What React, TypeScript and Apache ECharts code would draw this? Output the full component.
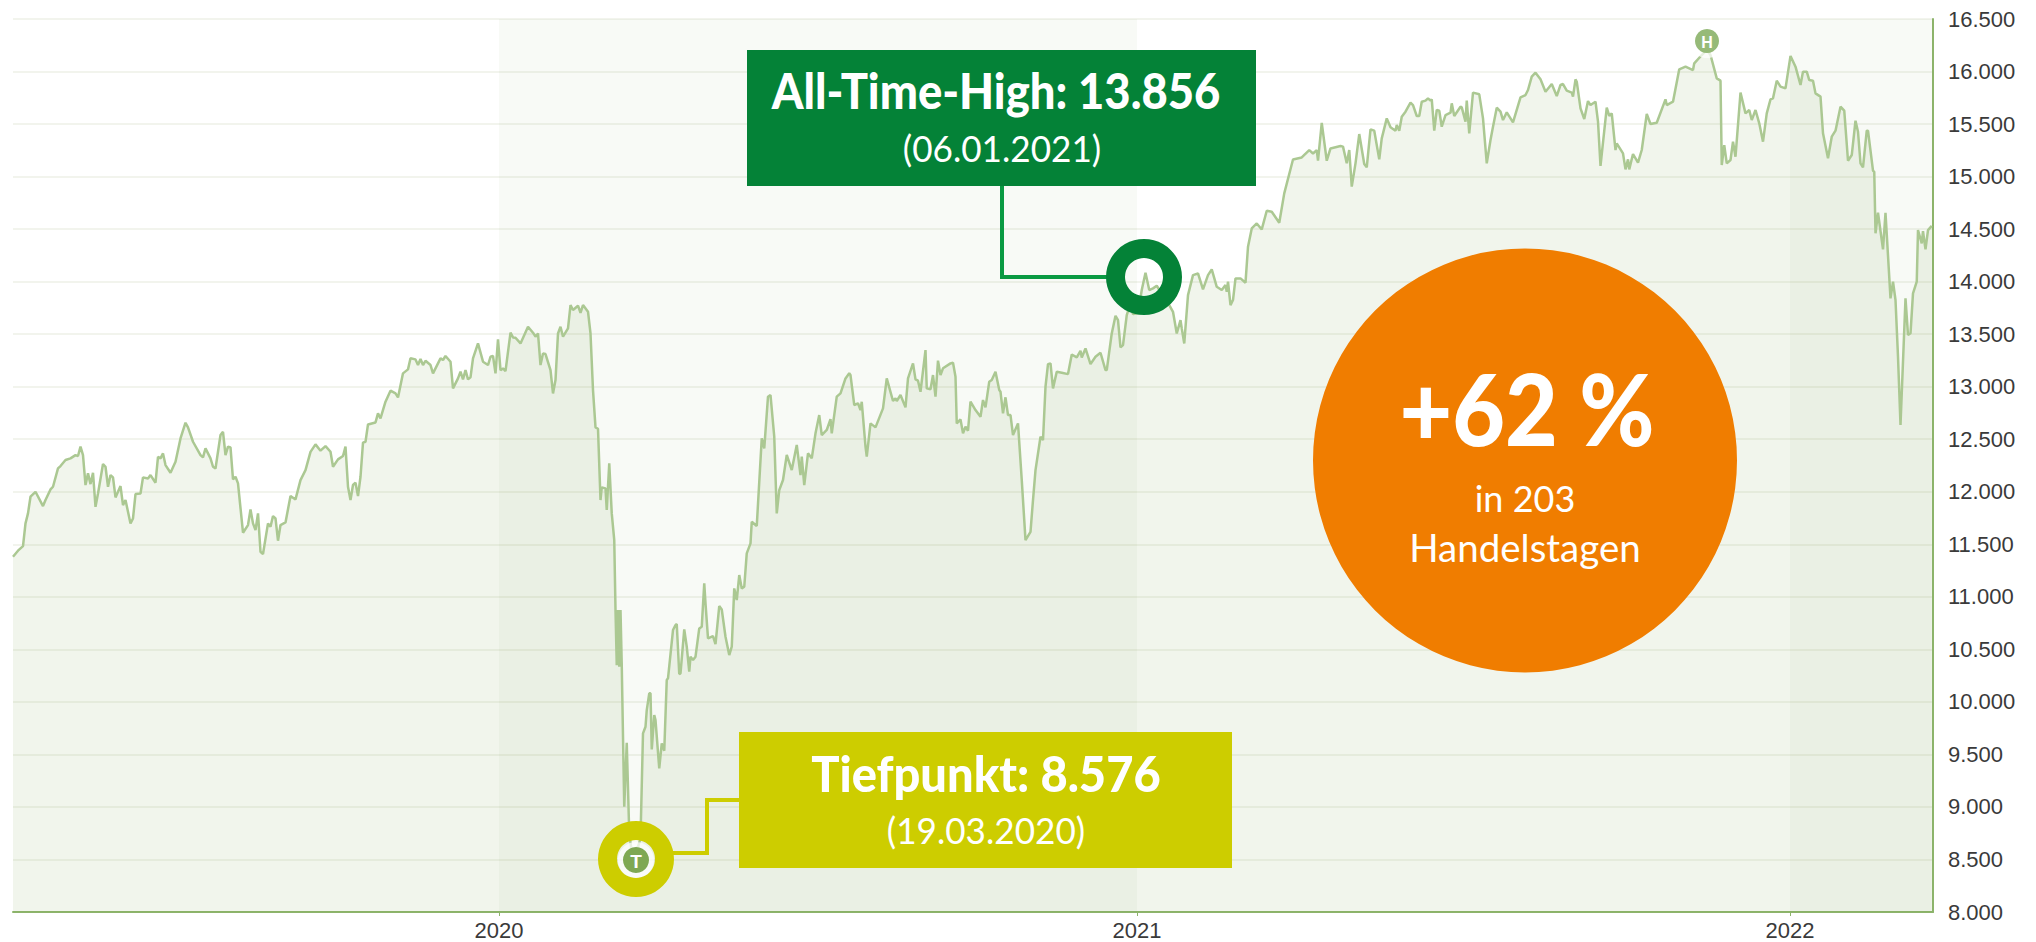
import React, { useEffect, useRef } from "react";
import * as echarts from "echarts";

// [trading session index, index level]
const legSpring2019 = [[0,11382],[2,11439],[4,11483],[5,11699],[6,11794],[7,11953],[9,12000],[12,11864],[13,11921],[15,12022],[16,12048],[18,12222],[19,12245],[21,12302],[23,12318],[25,12349],[26,12340],[27,12429],[28,12349],[29,12064],[30,12175],[31,12073],[32,12181],[33,11857],[34,11984],[36,12264],[37,12238],[38,12048],[39,12159],[40,12137],[41,11946],[43,12054],[44,11873],[45,11921],[47,11699],[48,11746],[49,11978],[51,11984],[52,12137],[54,12127],[55,12159],[57,12086],[58,12333],[59,12318],[60,12365],[61,12254],[63,12181],[65,12286],[67,12508],[69,12657],[70,12613],[72,12476],[75,12349],[76,12327],[77,12413],[79,12318],[80,12238],[81,12222],[83,12540],[84,12571],[85,12349],[86,12429],[87,12422],[88,12118],[89,12143],[90,12080],[92,11610],[94,11683],[95,11832],[96,11699],[97,11635],[98,11794],[99,11429],[100,11407],[102,11699],[103,11667],[104,11769],[105,11746],[106,11534],[107,11683],[109,11708],[111,11959],[113,11927],[115,12111],[117,12206],[119,12380]];
const legAutumn2019 = [[121,12451],[123,12391],[125,12435],[127,12381],[128,12238],[130,12308],[132,12340],[133,12429],[134,12048],[135,11921],[136,12064],[137,12086],[138,11959],[139,12143],[140,12467],[141,12476],[142,12641],[145,12660],[146,12746],[147,12698],[149,12857],[151,12962],[153,12936],[154,12898],[156,13127],[158,13165],[159,13270],[161,13260],[162,13206],[163,13263],[164,13206],[165,13247],[167,13206],[168,13127],[171,13270],[172,13254],[173,13292],[175,13238],[176,12984],[178,13079],[179,13143],[180,13070],[181,13158],[182,13070],[183,13089],[184,13270],[186,13412],[188,13238],[190,13206],[191,13285],[192,13292],[193,13127],[194,13450],[195,13158],[196,13174],[197,13149],[199,13514],[200,13469],[201,13466],[203,13412],[206,13571],[208,13514],[209,13476],[210,13507],[211,13206],[212,13317],[213,13311],[215,13158],[216,12936],[217,13063],[218,13507],[219,13571],[220,13476],[222,13555],[223,13777],[224,13730],[226,13771],[227,13704],[228,13777],[230,13714],[231,13507],[232,12968],[233,12613],[234,12600]];
const legCrash2020 = [[235,11921],[235.5,12042],[237,12032],[237.5,11826],[238.5,12270],[239.5,11794],[240.5,11540],[241,10874],[241.5,10350],[242,10874],[242.5,10334],[243,10874],[243.5,10350],[244.5,9002],[245.5,9611],[246.5,8748],[247.5,8576],[250,8620],[251,8700],[252,9700],[253,9763],[253.5,9922],[254.5,10081],[255,10081],[255.5,9548],[256.5,9875],[257,9827],[258.5,9367],[259.5,9605],[260.5,9535],[261.5,10208],[262,10224],[264,10684],[265,10731],[265.5,10741],[266.5,10265],[267,10271],[268.5,10690],[269.5,10525],[270.5,10287],[271,10430],[272,10398],[273,10430],[274.5,10699],[275.5,10715],[276.5,11128],[277,10937],[278,10604],[280,10627],[281,10550],[282.5,10912],[283.5,10880],[285,10620],[286.5,10446],[287.5,10525],[288.5,11080],[289.5,10969],[290.5,11207],[291.5,11080],[292.5,11096]];
const legRecovery2020 = [[293.5,11413],[295,11509],[295.5,11715],[297.5,11674],[299.5,12508],[300.5,12413],[302,12905],[303,12921],[304.5,12524],[305.5,11794],[306.5,12016],[308,12112],[309.5,12350],[311.5,12207],[313.5,12445],[315,12159],[315.5,12334],[316.5,12064],[318,12366],[319.5,12318],[321,12556],[322.5,12730],[323.5,12540],[325.5,12588],[327,12692],[327.5,12556],[329.5,12905],[331,12937],[333,13079],[334.5,13127],[335,13111],[336.5,12826],[338,12842],[339,12778],[339.5,12857],[341,12429],[341.5,12334],[343,12651],[345,12613],[348,12794],[349.5,13079],[352,12864],[353,12889],[353.5,12864],[355,12921],[357,12803],[358,13079],[360,13222],[361,13070],[362,13057],[363,12952],[365,13349],[365.5,12984],[367,12975],[368,13111],[369,12905],[370,13248],[371,13111],[372,13175],[375,13222],[376,13229],[377,13095],[377.5,12651],[379,12689],[380,12556],[381,12619],[382,12581],[383,12857],[385,12778],[387,12714],[388,12873],[389,12803],[390.5,13048],[391.5,13064],[393,13143],[394.5,12968],[395,12952],[396,12746],[397,12899],[398,12730],[399,12730],[400,12540],[402,12651],[403.5,12112],[405,11540],[407,11619]];
const legPeak2021 = [[408,11921],[409,12206],[411,12524],[412,12492],[413,13000],[414,13215],[415,13222],[416,12984],[417.5,13142],[419.5,13133],[422,13120],[423.5,13307],[425.5,13279],[427,13342],[427.5,13279],[429,13364],[431,13215],[433,13285],[435,13323],[437,13158],[437.5,13158],[439.5,13507],[441,13675],[442,13634],[443,13374],[444,13396],[445.5,13682],[447,13793],[448,13691],[450,13700],[451.5,13920],[453,14085],[454.5,13920],[456,13936],[457.5,13961],[459,13904],[461,13840],[464,13713],[465.5,13507],[467,13634],[467.5,13555],[468.5,13412],[470,13872],[472,14062],[474,14078],[476,13926],[478,14062],[479.5,14116],[481.5,13951],[483.5,13920],[485,13967],[485.5,13904],[486,13999],[487,13777],[488,13825],[489,14031],[491,14031],[493,13990],[494,14332],[495.5,14507],[497.5,14554],[499.5,14497],[501.5,14675],[503.5,14665],[506.5,14560],[508.5,14840],[512,15163],[515.5,15182],[518.5,15252],[520,15220],[521.5,15252],[522,15151],[523.5,15512],[525.5,15151],[527,15268],[531,15291],[532,15285],[533.5,15126],[534.5,15253],[535.5,14904],[537,15126],[538.5,15405],[540.5,15120],[541.5,15088],[543,15450],[544.5,15437],[546.5,15164],[547.5,15364],[549.5,15554],[551,15469],[553,15437],[553.5,15491],[554.5,15437],[555.5,15570],[557,15618],[559,15703],[560,15681],[561.5,15577],[562.5,15577],[563.5,15713],[565,15723],[566,15745],[567,15723],[567.5,15735],[568.5,15437],[569.5,15634],[570.5,15627],[571.5,15475],[573,15586],[575,15608],[575.5,15697],[576.5,15577],[579,15665],[579.5,15659],[581,15523],[581.5,15723],[582.5,15412],[584,15799],[586.5,15783],[588,15554],[589.5,15126],[591,15348],[592,15475],[593.5,15656],[595,15618],[596,15538],[597.5,15611],[600,15516],[601.5,15634],[603,15754],[605,15776],[606,15824],[607.5,15951],[609,15989],[611,15926],[613,15808],[615.5,15881],[617.5,15767],[619,15872],[620,15881],[621.5,15818],[623.5,15799],[624,15761],[625,15926],[625.5,15903],[627,15650],[628.5,15548],[630,15719],[631,15681],[633,15713],[634,15523],[635,15101],[637.5,15656],[638.5,15577],[639.5,15602],[641,15253],[641.5,15316],[644,15221],[645,15069],[646,15164],[646.5,15069],[648,15215],[650,15132],[651.5,15253],[653.5,15596],[655,15500]];
const legTop2021 = [[657.5,15513],[661,15735],[661.5,15681],[664,15713],[666.5,16021],[669,16046],[672,16014],[672.5,16078],[675.5,16157],[677.5,16205],[679,16157],[681.5,15935],[683,15913],[683.5,15110],[684.5,15300],[685.5,15126],[687,15158],[688,15332],[689,15189],[691,15799],[693,15602],[694.5,15634],[695.5,15538],[697,15634],[698.5,15507],[700,15332],[701.5,15602],[703,15735],[704,15745],[705.5,15913],[707,15856],[709,15840],[711,16148],[713,16046],[715,15872],[716,15999],[717.5,15999],[718.5,15919],[720,15913],[721,15792],[723,15761],[724,15412],[726,15174],[727.5,15380],[729,15437],[731,15665],[732.5,15627],[734,15151],[735.5,15205],[737,15532],[738,15427],[739,15126],[740,15088],[741.5,15437],[742,15437],[744,15056],[744.5,15047],[745,14460],[746,14656],[748,14307],[749,14656],[751,13841],[752,14000],[753,13825],[754,13286],[755,12635],[755.5,12937],[757,13841],[758,13492],[759,13508],[760,13888],[761.5,14000],[762,14491],[763.5,14365],[764,14480],[765,14307],[766,14491],[767.5,14530]];

const yearTicks = [194.4, 449.6, 710.8];
const yearLabels = ["2020", "2021", "2022"];
const sessionsMax = 768;
const yMin = 8000;
const yMax = 16500;
const yStep = 500;

const highTitle = "All-Time-High: 13.856";
const highDate = "(06.01.2021)";
const lowTitle = "Tiefpunkt: 8.576";
const lowDate = "(19.03.2020)";
const gainTitle = "+62 %";
const gainLine1 = "in 203";
const gainLine2 = "Handelstagen";

const GREEN = "#048237";
const YELLOW = "#cdcd00";
const ORANGE = "#f07d00";
const MARKER = "#7ea853";
const MARKER_PALE = "#96ba78";
const CALLOUT_FONT = "Lato, 'Open Sans', sans-serif";

const levels = [...legSpring2019, ...legAutumn2019, ...legCrash2020, ...legRecovery2020, ...legPeak2021, ...legTop2021];

const label = (text: string, x: number, y: number, fontSize: number, fontWeight: any, scaleX = 1) => ({
  type: "text", z: 110, x, y, scaleX,
  style: { text, x: 0, y: 0, fill: "#fff", fontFamily: CALLOUT_FONT, fontSize, fontWeight, align: "center", verticalAlign: "middle" },
});
const connector = (points: number[][], color: string) => ({
  type: "polyline", z: 101, shape: { points }, style: { stroke: color, lineWidth: 4, fill: "none" },
});
const badge = (cx: number, cy: number, r: number, letter: string, fontSize: number, color: string) => ([
  { type: "circle", z: 105, shape: { cx, cy, r: r + 5 }, style: { fill: "rgba(255,255,255,0.72)" } },
  { type: "circle", z: 106, shape: { cx, cy, r }, style: { fill: color } },
  { type: "text", z: 107, x: cx, y: cy + 1, style: { text: letter, x: 0, y: 0, fill: "#fff", fontFamily: "'Liberation Sans', Arial, sans-serif", fontWeight: "bold", fontSize, align: "center", verticalAlign: "middle" } },
]);

export default function App() {
  const ref = useRef<HTMLDivElement>(null);
  useEffect(() => {
    const chart = echarts.init(ref.current!, undefined, { renderer: "svg" });
    chart.setOption({
      animation: false,
      backgroundColor: "#fff",
      grid: { left: 13, right: 103, top: 19, bottom: 30 },
      xAxis: {
        type: "value", min: 0, max: sessionsMax,
        splitLine: { show: false },
        axisLine: { show: true, onZero: false, lineStyle: { color: "#8db46b", width: 2 } },
        axisTick: { show: true, customValues: yearTicks, length: 4, lineStyle: { color: "#8db46b", width: 1 } },
        axisLabel: {
          show: true, customValues: yearTicks, margin: 7, color: "#3a3a3a", fontSize: 22,
          fontFamily: "'Liberation Sans', Arial, sans-serif",
          formatter: (v: number) => yearLabels[yearTicks.findIndex((t) => Math.abs(t - v) < 0.01)] ?? "",
        },
      },
      yAxis: {
        type: "value", position: "right", min: yMin, max: yMax, interval: yStep,
        axisLine: { show: true, onZero: false, lineStyle: { color: "#8db46b", width: 2 } },
        axisTick: { show: false },
        splitLine: { show: true, lineStyle: { color: "#f2f4ed", width: 2 } },
        axisLabel: {
          margin: 15, color: "#3a3a3a", fontSize: 22,
          fontFamily: "'Liberation Sans', Arial, sans-serif",
          formatter: (v: number) => `${Math.floor(v / 1000)}.${String(v % 1000).padStart(3, "0")}`,
        },
      },
      series: [{
        type: "line", data: levels, showSymbol: false, silent: true,
        lineStyle: { color: "#abc892", width: 2.5 },
        areaStyle: { color: "#7ea853", opacity: 0.11 },
        markArea: {
          silent: true,
          itemStyle: { color: "rgba(130,165,100,0.06)" },
          data: [
            [{ xAxis: yearTicks[0] }, { xAxis: yearTicks[1] }],
            [{ xAxis: yearTicks[2] }, { xAxis: sessionsMax }],
          ],
        },
      }],
      graphic: { elements: [
        connector([[1002, 186], [1002, 277], [1110, 277]], "#0a9a42"),
        { type: "rect", z: 102, shape: { x: 747, y: 50, width: 509, height: 136 }, style: { fill: GREEN } },
        { type: "ring", z: 103, shape: { cx: 1144, cy: 277, r: 38, r0: 19 }, style: { fill: GREEN } },
        label(highTitle, 996, 90, 50, 900, 0.907),
        label(highDate, 1002, 148, 37, 400, 0.95),

        connector([[672, 853], [707, 853], [707, 800], [742, 800]], YELLOW),
        { type: "rect", z: 102, shape: { x: 739, y: 732, width: 493, height: 136 }, style: { fill: YELLOW } },
        ...badge(636, 860, 13, "T", 19, MARKER),
        { type: "ring", z: 108, shape: { cx: 636, cy: 859, r: 38, r0: 19 }, style: { fill: YELLOW } },
        label(lowTitle, 986, 772, 50, 900, 0.94),
        label(lowDate, 986, 830, 37, 400, 0.95),

        ...badge(1707, 41, 12, "H", 16, MARKER_PALE),

        { type: "circle", z: 102, shape: { cx: 1525, cy: 460.5, r: 212 }, style: { fill: ORANGE } },
        label(gainTitle, 1527, 407, 100, 900, 0.91),
        label(gainLine1, 1525, 498, 36, 400),
        label(gainLine2, 1525, 547, 38.5, 400),
      ] },
    });
    return () => chart.dispose();
  }, []);
  return <div ref={ref} style={{ position: "absolute", left: 0, top: 0, width: 2036, height: 942 }} />;
}
